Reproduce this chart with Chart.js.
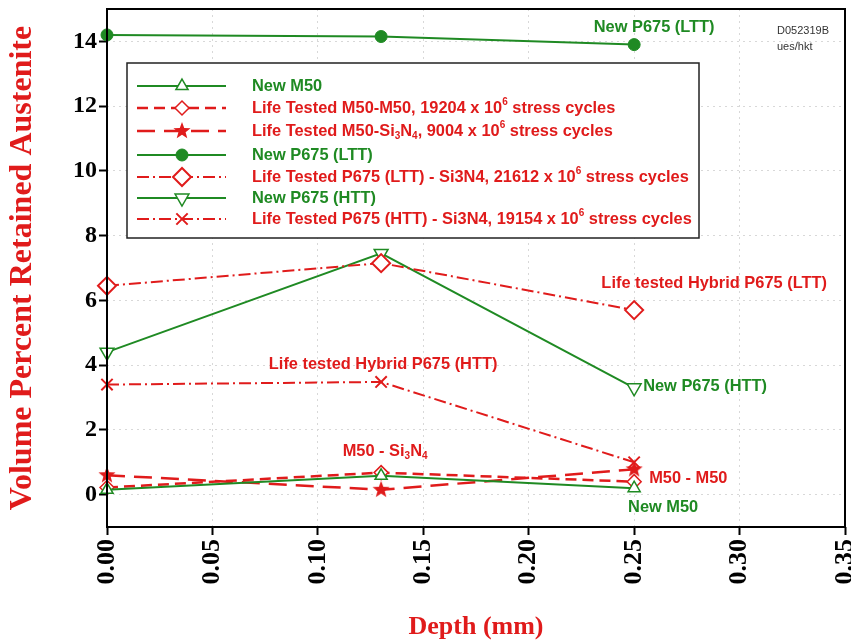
<!DOCTYPE html>
<html>
<head>
<meta charset="utf-8">
<title>Retained Austenite vs Depth</title>
<script src="https://cdn.jsdelivr.net/npm/chart.js@4.4.0/dist/chart.umd.min.js"></script>
<style>
  html, body { margin: 0; padding: 0; background: #fff; }
  #graphique { display: block; }
</style>
</head>
<body>
<canvas id="graphique" width="851" height="643"></canvas>
<script>
// Profondeurs mesurées (mm)
const depth = [0, 0.13, 0.25];

// Pourcentage d'austénite résiduelle par série
const newM50 = [0.15, 0.58, 0.2];
const lifeM50M50 = [0.22, 0.68, 0.4];
const lifeM50Si3N4 = [0.6, 0.15, 0.78];
const newP675LTT = [14.2, 14.15, 13.9];
const lifeP675LTT = [6.45, 7.15, 5.7];
const newP675HTT = [4.4, 7.45, 3.3];
const lifeP675HTT = [3.4, 3.48, 1.0];

const xTicks = [0, 0.05, 0.10, 0.15, 0.20, 0.25, 0.30, 0.35];
const yTicks = [0, 2, 4, 6, 8, 10, 12, 14];

const GREEN = "#1f8a23";
const RED = "#e01b1b";
const TXT = 16.4;

// étoile pleine à 5 branches (Chart.js n'en a pas)
function makeStar (r, color) {
    const c = document.createElement("canvas");
    c.width = c.height = r * 2 + 2;
    const ctx = c.getContext("2d");
    ctx.fillStyle = color;
    ctx.beginPath();
    for (let i = 0; i < 10; i++) {
        const rad = i % 2 === 0 ? r : r * 0.42;
        const a = -Math.PI / 2 + i * Math.PI / 5;
        const px = r + 1 + rad * Math.cos(a);
        const py = r + 1 + rad * Math.sin(a);
        if (i === 0) ctx.moveTo(px, py); else ctx.lineTo(px, py);
    }
    ctx.closePath();
    ctx.fill();
    return c;
}
const starImg = makeStar(9, RED);

function pts (ys) {
    return depth.map((d, i) => ({ x: d, y: ys[i] }));
}

const series = [
    { data: newM50, color: GREEN, dash: [], style: "triangle", rot: 0, r: 7, fill: "#fff", bw: 1.5, lw: 2,
      label: [["New M50"]] },
    { data: lifeM50M50, color: RED, dash: [11, 6], style: "rectRot", rot: 0, r: 7, fill: "#fff", bw: 1.5, lw: 2.5,
      label: [["Life Tested M50-M50, 19204 x 10"], ["6", "sup"], [" stress cycles"]] },
    { data: lifeM50Si3N4, color: RED, dash: [18, 9], style: starImg, rot: 0, r: 9, fill: RED, bw: 1, lw: 2.5,
      label: [["Life Tested M50-Si"], ["3", "sub"], ["N"], ["4", "sub"], [", 9004 x 10"], ["6", "sup"], [" stress cycles"]] },
    { data: newP675LTT, color: GREEN, dash: [], style: "circle", rot: 0, r: 6, fill: GREEN, bw: 1, lw: 2,
      label: [["New P675 (LTT)"]] },
    { data: lifeP675LTT, color: RED, dash: [12, 4, 2, 4], style: "rectRot", rot: 0, r: 9, fill: "#fff", bw: 2, lw: 2,
      label: [["Life Tested P675 (LTT) - Si3N4, 21612 x 10"], ["6", "sup"], [" stress cycles"]] },
    { data: newP675HTT, color: GREEN, dash: [], style: "triangle", rot: 180, r: 8, fill: "#fff", bw: 1.5, lw: 2,
      label: [["New P675 (HTT)"]] },
    { data: lifeP675HTT, color: RED, dash: [12, 4, 2, 4], style: "crossRot", rot: 0, r: 8, fill: RED, bw: 2, lw: 2,
      label: [["Life Tested P675 (HTT) - Si3N4, 19154 x 10"], ["6", "sup"], [" stress cycles"]] }
];

// texte avec exposants / indices
function drawRich (ctx, parts, x, y, size) {
    let cx = x;
    for (const [txt, kind] of parts) {
        if (kind) {
            ctx.font = `bold ${Math.round(size * 0.62)}px Arial, 'Liberation Sans', sans-serif`;
            const dy = kind === "sup" ? -size * 0.38 : size * 0.3;
            ctx.fillText(txt, cx, y + dy);
        } else {
            ctx.font = `bold ${size}px Arial, 'Liberation Sans', sans-serif`;
            ctx.fillText(txt, cx, y);
        }
        cx += ctx.measureText(txt).width;
    }
    return cx - x;
}

function richWidth (ctx, parts, size) {
    let w = 0;
    for (const [txt, kind] of parts) {
        ctx.font = `bold ${kind ? Math.round(size * 0.62) : size}px Arial, 'Liberation Sans', sans-serif`;
        w += ctx.measureText(txt).width;
    }
    return w;
}

const cadre = {
    id: "cadre",
    afterDraw (chart) {
        const { ctx, chartArea: a, scales } = chart;
        ctx.save();
        ctx.strokeStyle = "#000";
        ctx.lineWidth = 2;
        ctx.strokeRect(a.left, a.top, a.right - a.left, a.bottom - a.top);

        // légende
        const lx = 127, ly = 63, lw = 572, lh = 175;
        ctx.fillStyle = "#fff";
        ctx.fillRect(lx, ly, lw, lh);
        ctx.lineWidth = 1.5;
        ctx.strokeStyle = "#222";
        ctx.strokeRect(lx, ly, lw, lh);
        const rowsY = [86, 108, 131, 155, 177, 198, 219];
        series.forEach((s, i) => {
            const y = rowsY[i];
            ctx.save();
            ctx.strokeStyle = s.color;
            ctx.lineWidth = s.lw;
            ctx.setLineDash(s.dash);
            ctx.beginPath();
            ctx.moveTo(137, y);
            ctx.lineTo(226, y);
            ctx.stroke();
            ctx.setLineDash([]);
            ctx.fillStyle = s.fill;
            ctx.lineWidth = s.bw;
            Chart.helpers.drawPoint(ctx, { pointStyle: s.style, rotation: s.rot, radius: s.r, borderWidth: s.bw }, 182, y);
            ctx.restore();
            ctx.fillStyle = s.color;
            ctx.textBaseline = "middle";
            ctx.textAlign = "left";
            drawRich(ctx, s.label, 252, y, TXT);
        });

        // étiquettes des courbes
        const x = scales.x, yS = scales.y;
        const notes = [
            { t: [["New P675 (LTT)"]], c: GREEN, x: x.getPixelForValue(0.25) + 20, y: yS.getPixelForValue(13.9) - 17, al: "center" },
            { t: [["Life tested Hybrid P675 (LTT)"]], c: RED, x: x.getPixelForValue(0.25) + 80, y: yS.getPixelForValue(5.7) - 27, al: "center" },
            { t: [["New P675 (HTT)"]], c: GREEN, x: x.getPixelForValue(0.25) + 9, y: yS.getPixelForValue(3.3) - 1, al: "left" },
            { t: [["Life tested Hybrid P675 (HTT)"]], c: RED, x: x.getPixelForValue(0.13) + 2, y: yS.getPixelForValue(3.48) - 17, al: "center" },
            { t: [["M50 - Si"], ["3", "sub"], ["N"], ["4", "sub"]], c: RED, x: x.getPixelForValue(0.13) + 4, y: yS.getPixelForValue(0.68) - 21, al: "center" },
            { t: [["M50 - M50"]], c: RED, x: x.getPixelForValue(0.25) + 15, y: yS.getPixelForValue(0.5), al: "left" },
            { t: [["New M50"]], c: GREEN, x: x.getPixelForValue(0.25) + 29, y: yS.getPixelForValue(0.2) + 19, al: "center" }
        ];
        ctx.textBaseline = "middle";
        ctx.textAlign = "left";
        for (const n of notes) {
            ctx.fillStyle = n.c;
            const w = richWidth(ctx, n.t, TXT);
            const sx = n.al === "center" ? n.x - w / 2 : n.x;
            drawRich(ctx, n.t, sx, n.y, TXT);
        }

        ctx.fillStyle = "#333";
        ctx.font = "11px Arial, 'Liberation Sans', sans-serif";
        ctx.fillText("D052319B", 777, 31);
        ctx.fillText("ues/hkt", 777, 47);
        ctx.restore();
    }
};

const serif = "'Liberation Serif', 'Times New Roman', serif";

new Chart(document.getElementById("graphique"), {
    type: "line",
    data: {
        datasets: series.map(s => ({
            data: pts(s.data),
            borderColor: s.color,
            backgroundColor: s.fill,
            borderWidth: s.lw,
            borderDash: s.dash,
            pointStyle: s.style,
            pointRotation: s.rot,
            pointRadius: s.r,
            pointBorderWidth: s.bw,
            pointBackgroundColor: s.fill,
            pointBorderColor: s.color,
            clip: false,
            tension: 0
        }))
    },
    options: {
        responsive: false,
        animation: false,
        layout: { autoPadding: false, padding: { top: 9, right: 6, left: 0, bottom: 0 } },
        plugins: { legend: { display: false }, tooltip: { enabled: false } },
        scales: {
            x: {
                type: "linear",
                min: 0,
                max: 0.35,
                afterBuildTicks: (scale) => { scale.ticks = xTicks.map(v => ({ value: v })); },
                afterFit: (scale) => {
                    scale.height = 116;
                    scale.paddingLeft = 0;
                    scale.paddingRight = 0;
                },
                ticks: {
                    color: "#000",
                    font: { family: serif, size: 26, weight: "bold" },
                    minRotation: 90,
                    maxRotation: 90,
                    padding: 4,
                    callback: (v) => v.toFixed(2)
                },
                grid: { color: "#d8d8d8", lineWidth: 1, tickColor: "#000", tickLength: 8, tickWidth: 2 },
                border: { display: false, dash: [2, 4] },
                title: {
                    display: true,
                    text: "Depth (mm)",
                    color: RED,
                    font: { family: serif, size: 26, weight: "bold" },
                    padding: { top: 0, bottom: 0 }
                }
            },
            y: {
                min: -1,
                max: 15,
                afterBuildTicks: (scale) => { scale.ticks = yTicks.map(v => ({ value: v })); },
                afterFit: (scale) => {
                    scale.width = 107;
                    scale.paddingTop = 0;
                    scale.paddingBottom = 0;
                },
                ticks: {
                    color: "#000",
                    font: { family: serif, size: 24, weight: "bold" },
                    padding: 2
                },
                grid: { color: "#d8d8d8", lineWidth: 1, tickColor: "#000", tickLength: 8, tickWidth: 2 },
                border: { display: false, dash: [2, 4] },
                title: {
                    display: true,
                    text: "Volume Percent Retained Austenite",
                    color: RED,
                    font: { family: serif, size: 32, weight: "bold" },
                    padding: { top: 4, bottom: 0 }
                }
            }
        }
    },
    plugins: [cadre]
});
</script>
</body>
</html>
